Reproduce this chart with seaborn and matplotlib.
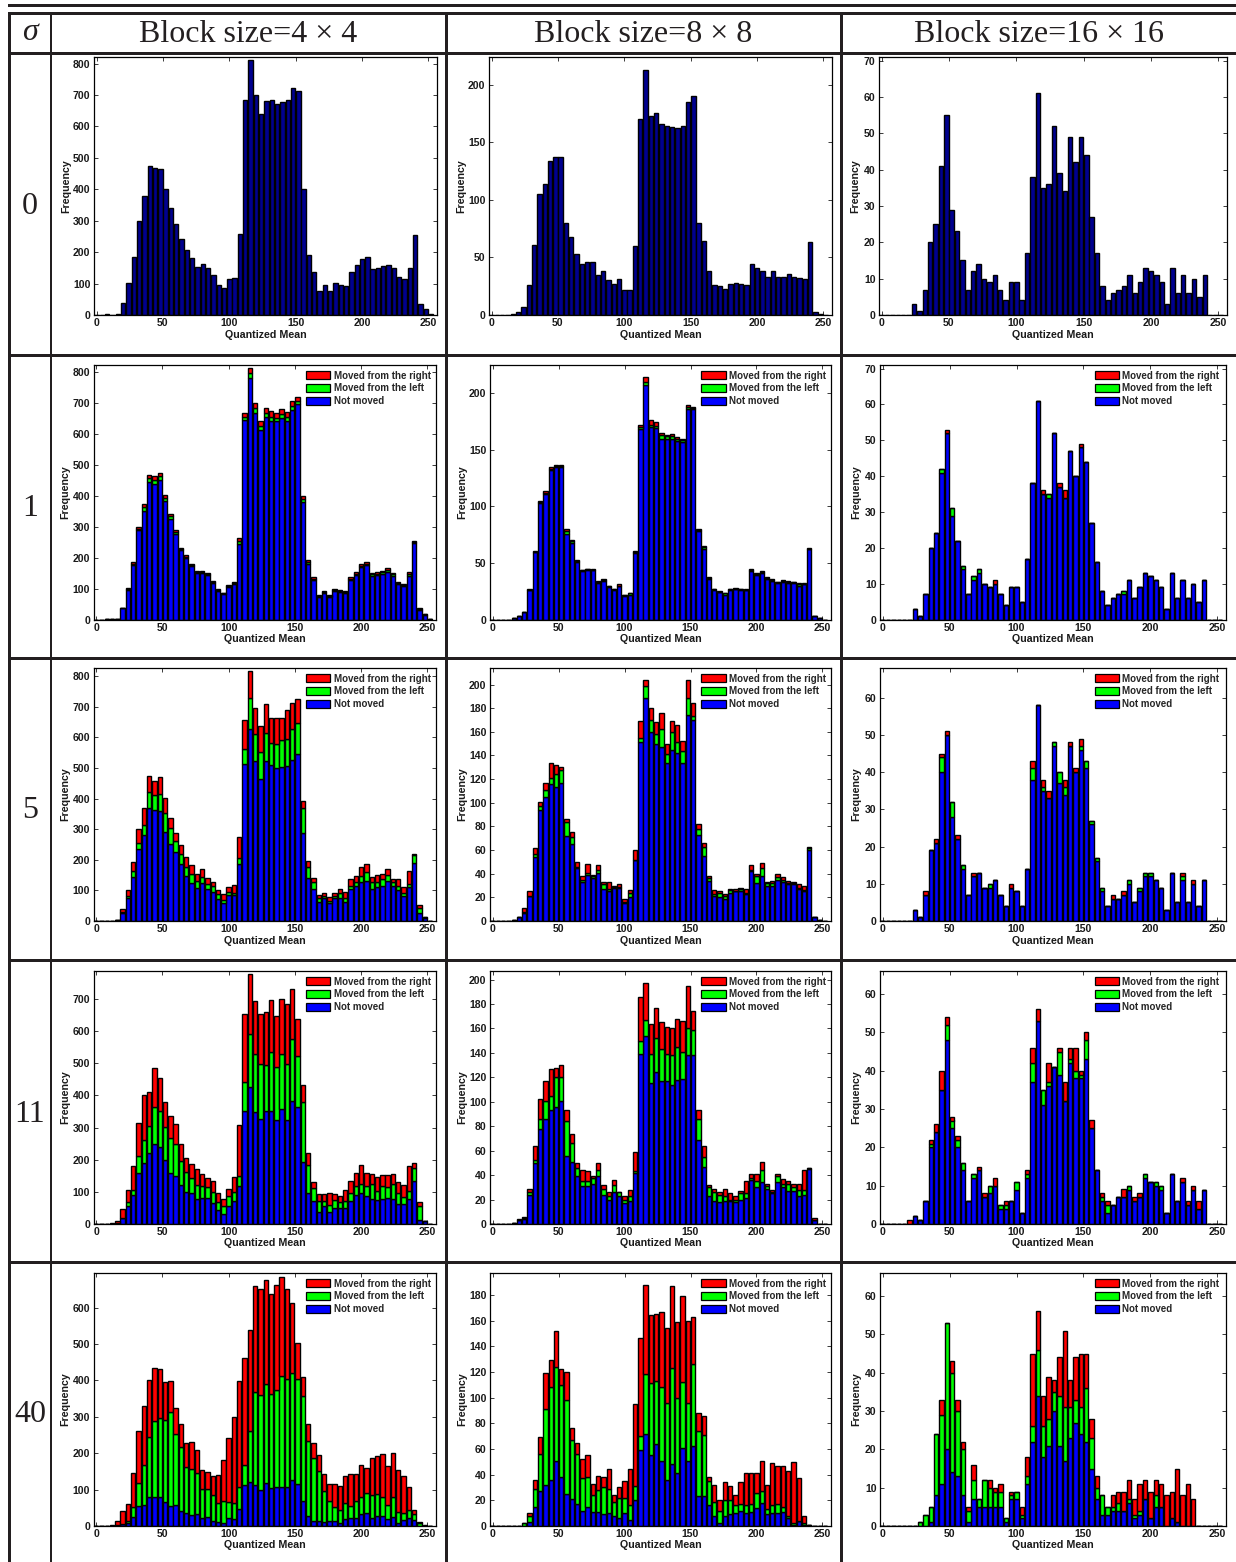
import numpy as np
import pandas as pd
import matplotlib
matplotlib.use("Agg")
import matplotlib.pyplot as plt
from matplotlib.patches import Patch, Rectangle
import seaborn as sns

W, H = 1236, 1562

sigma_labels = ["0", "1", "5", "11", "40"]
block_labels = ["Block size=4 \u00d7 4", "Block size=8 \u00d7 8", "Block size=16 \u00d7 16"]
legend_labels = ["Moved from the right", "Moved from the left", "Not moved"]
x_ticks = [0, 50, 100, 150, 200, 250]
bin_centers = list(range(0, 256, 4))

# sigma = 0 : single histograms
s0_b4 = [0,0,2,1,3,38,103,183,300,378, 474,469,466,401,342,290,243,206,181,154,
         162,150,127,95,87,115,118,258,685,811, 700,640,682,684,670,679,683,722,712,400,
         190,137,77,96,77,102,96,91,137,158, 177,183,146,149,156,159,151,122,115,150, 253,34,18,2]
s0_b8 = [0,0,0,0,1,3,7,26,61,105, 114,134,137,137,80,68,53,44,46,46,
         35,38,30,27,31,22,22,60,170,213, 173,175,166,164,163,162,164,185,190,80,
         64,38,26,25,23,27,28,27,26,44, 41,38,33,38,33,33,36,33,32,31, 63,3,1,0]
s0_b16 = [0,0,0,0,0,0,3,1,7,20, 25,41,55,29,23,15,7,12,14,10,
          9,11,7,4,9,9,4,17,38,61, 35,36,52,39,34,49,42,49,44,27,
          17,8,4,6,7,8,11,6,9,13, 12,11,9,3,13,6,11,6,10,5, 11,0,0,0]

# sigma = 1 : stack tops
s1_b4_top = [0,0,1,1,3,38,102,185,298,372, 468,462,472,402,340,288,232,208,180,158,
             158,150,125,97,86,112,120,262,668,812, 700,642,684,672,668,680,670,705,718,398,
             192,136,78,92,78,98,96,92,136,152, 178,186,150,152,156,165,150,120,115,152, 255,36,18,2]
s1_b4_left = [0,0,1,1,3,37,98,180,293,362, 456,450,462,392,333,283,228,203,176,155,
              154,147,122,95,84,109,117,252,655,795, 682,625,668,655,652,664,655,690,705,388,
              186,132,75,89,75,95,93,89,132,148, 173,180,146,148,152,160,146,117,112,147, 250,34,17,2]
s1_b4_not = [0,0,1,1,3,36,95,176,288,352, 444,438,450,382,325,277,224,198,172,151,
             150,143,119,92,82,106,114,245,645,780, 668,612,655,640,640,650,642,678,695,380,
             180,128,72,86,72,92,90,86,128,144, 168,175,142,144,148,155,142,114,109,142, 246,32,16,2]
s1_b8_top = [0,0,0,0,1,3,7,27,61,105, 114,135,137,137,80,70,53,44,45,45,
             34,36,30,27,31,22,23,61,172,214, 176,175,165,163,164,161,160,190,188,80,
             65,38,27,25,23,27,28,27,27,45, 41,43,38,36,33,35,34,33,32,32, 63,3,1,0]
s1_b8_left = [0,0,0,0,1,3,7,26,60,104, 112,133,136,136,78,69,52,44,45,44,
              33,35,30,27,30,22,23,60,170,210, 172,171,163,162,162,160,159,188,187,79,
              64,37,27,24,23,27,27,27,26,44, 40,42,37,35,33,34,33,33,31,31, 62,3,1,0]
s1_b8_not = [0,0,0,0,1,3,7,26,60,103, 111,132,135,135,76,68,51,43,44,44,
             32,34,29,26,30,21,22,59,168,207, 170,169,160,160,160,158,157,186,186,78,
             62,36,26,24,22,26,27,26,26,43, 39,41,36,34,32,33,32,32,30,31, 62,3,1,0]
s1_b16_top = [0,0,0,0,0,0,3,1,7,20, 24,42,53,31,22,15,7,12,14,10,
              9,11,7,4,9,9,5,17,38,61, 36,35,52,38,36,47,40,49,44,27,
              16,8,4,6,7,8,11,6,9,13, 12,11,9,3,13,6,11,6,10,5, 11,0,0,0]
s1_b16_left = [0,0,0,0,0,0,3,1,7,20, 24,42,52,31,22,15,7,12,14,10,
               9,10,7,4,9,9,5,17,38,61, 35,35,52,37,34,47,40,48,44,27,
               16,8,4,6,7,8,11,6,9,13, 12,11,9,3,13,6,11,6,10,5, 11,0,0,0]
s1_b16_not = [0,0,0,0,0,0,3,1,7,20, 24,41,52,29,22,14,7,11,13,10,
              9,10,7,4,9,9,5,17,38,61, 35,34,52,37,34,47,40,48,44,27,
              16,8,4,6,7,7,11,6,9,13, 12,11,9,3,13,6,11,6,10,5, 11,0,0,0]

# sigma = 5
s5_b4_top = [0,0,0,0,3,38,101,192,300,369, 473,457,470,402,338,287,247,210,182,152,
             169,142,127,101,87,110,119,276,657,817, 696,636,708,662,664,664,691,712,725,392,
             195,139,84,90,78,91,106,96,137,148, 175,185,144,151,152,169,137,136,110,165, 220,53,13,0]
s5_b4_left = [0,0,0,0,2,29,83,162,256,315, 422,412,416,352,305,263,220,178,155,132,
              143,121,115,87,70,96,93,207,561,728, 610,552,614,582,580,593,596,629,648,369,
              177,128,76,82,66,81,90,76,116,129, 148,161,128,128,136,149,128,116,93,122, 215,44,12,0]
s5_b4_not = [0,0,0,0,2,27,74,143,234,281, 369,362,358,290,252,224,186,146,124,107,
             123,104,94,73,60,85,84,186,514,628, 522,464,523,509,500,503,506,526,545,287,
             142,104,61,74,58,74,74,62,103,113, 126,130,105,110,113,130,116,100,81,110, 191,25,11,0]
s5_b8_top = [0,0,0,0,1,3,11,25,62,101, 117,134,132,130,86,75,50,38,48,39,
             47,33,33,30,31,19,26,60,169,204, 180,168,176,150,169,166,152,204,184,82,
             66,38,26,25,23,27,27,28,27,47, 40,49,33,34,40,37,34,33,31,30, 63,3,1,0]
s5_b8_left = [0,0,0,0,1,3,8,21,57,97, 111,121,124,128,84,71,46,35,41,38,
              43,31,27,29,29,16,24,52,155,199, 170,158,162,141,160,151,144,189,173,78,
              63,36,23,24,21,26,25,27,24,43, 38,45,32,32,37,35,32,32,28,26, 62,3,1,0]
s5_b8_not = [0,0,0,0,1,3,7,21,54,94, 105,116,113,117,72,65,45,33,39,36,
             41,27,25,28,28,15,20,52,151,189, 160,150,147,134,145,142,134,174,170,73,
             55,34,21,20,19,24,25,25,23,42, 32,38,30,30,35,33,31,31,27,25, 60,3,1,0]
s5_b16_top = [0,0,0,0,0,0,3,1,8,19, 22,45,51,32,23,15,7,13,13,9,
              10,11,7,4,10,8,4,14,43,58, 38,35,48,40,38,48,41,49,43,27,
              17,9,4,7,6,8,11,5,9,13, 13,11,9,3,13,5,13,5,11,4, 11,0,0,0]
s5_b16_left = [0,0,0,0,0,0,3,1,7,19, 21,44,50,32,22,15,7,12,13,9,
               10,11,7,4,9,8,4,14,41,58, 36,33,48,40,36,47,40,47,43,27,
               17,9,4,6,6,7,11,5,9,13, 13,11,9,3,13,5,12,5,10,4, 11,0,0,0]
s5_b16_not = [0,0,0,0,0,0,3,1,7,19, 21,40,50,28,22,14,7,12,13,9,
              9,11,7,4,9,8,4,14,38,58, 35,33,47,37,34,47,40,46,41,26,
              16,8,4,6,6,7,10,5,8,12, 12,11,9,3,13,5,11,5,10,4, 11,0,0,0]

# sigma = 11
s11_b4_top = [0,0,0,3,8,48,105,179,313,402, 412,484,453,378,335,311,250,204,188,170,
              157,143,133,95,79,110,147,307,652,778, 693,652,661,697,646,700,683,731,637,431,
              222,130,92,92,96,94,88,105,135,160, 183,158,157,146,152,153,155,132,120,180, 191,67,8,0]
s11_b4_left = [0,0,0,1,2,19,68,107,213,260, 304,364,353,301,266,250,197,163,144,120,
               119,114,100,69,57,87,98,148,443,592, 530,499,495,534,487,528,499,574,524,378,
               184,113,70,73,60,75,69,70,97,119, 125,118,123,103,117,116,123,97,84,104, 173,56,8,0]
s11_b4_not = [0,0,0,0,1,18,55,90,158,190, 220,248,238,198,160,148,120,101,95,77,
              80,81,65,43,30,55,71,117,353,425, 347,328,352,353,322,357,325,382,364,192,
              96,71,37,55,37,51,50,49,70,89, 95,87,77,76,77,81,79,62,61,77, 133,11,8,0]
s11_b8_top = [0,0,0,0,1,4,6,29,64,102, 117,127,128,130,93,74,50,44,43,39,
              50,32,26,36,26,23,28,59,186,197, 164,177,165,161,160,168,166,195,174,93,
              64,32,29,26,29,25,23,27,35,41, 41,51,33,28,41,37,35,33,33,44, 46,5,0,0]
s11_b8_left = [0,0,0,0,1,3,5,26,52,86, 101,105,120,120,84,66,46,35,35,38,
               44,29,23,32,26,20,23,43,150,167, 139,152,143,139,138,145,141,160,159,86,
               55,30,26,24,23,20,20,25,25,38, 35,44,31,26,39,33,33,30,28,28, 46,3,0,0]
s11_b8_not = [0,0,0,0,1,3,4,24,50,78, 86,93,96,101,56,51,39,31,31,33,
              39,24,20,26,23,17,19,42,139,154, 115,124,117,117,114,118,119,138,138,69,
              47,23,19,18,19,19,18,20,21,36, 30,34,29,25,34,30,27,27,23,24, 45,3,0,0]
s11_b16_top = [0,0,0,0,0,1,2,1,6,22, 26,40,54,28,23,16,6,13,15,8,
               10,12,5,6,6,11,3,14,46,56, 35,42,41,46,37,46,46,40,50,27,
               14,8,6,5,7,9,10,7,8,13, 11,11,10,3,13,6,12,6,10,6, 9,0,0,0]
s11_b16_left = [0,0,0,0,0,0,2,1,6,21, 24,35,52,27,22,16,6,13,14,7,
                10,10,5,5,6,11,3,13,42,53, 35,37,41,45,32,43,40,39,48,25,
                14,7,5,5,7,7,10,6,7,13, 11,11,10,3,13,6,11,5,9,4, 9,0,0,0]
s11_b16_not = [0,0,0,0,0,0,2,1,6,20, 24,35,48,25,20,14,6,12,14,7,
               8,10,4,4,6,9,3,12,37,53, 31,36,41,39,32,42,38,38,43,25,
               14,6,3,5,7,7,9,6,7,12, 11,10,9,3,13,6,11,5,9,4, 9,0,0,0]

# sigma = 40
s40_b4_top = [0,0,1,3,14,40,60,145,261,331, 402,435,430,395,399,324,281,228,230,210,
              154,148,137,140,181,243,300,397,462,539, 658,650,676,638,663,685,650,612,503,408,
              281,227,195,142,116,115,110,138,142,142, 168,159,187,192,197,164,200,154,137,107, 43,10,2,0]
s40_b4_left = [0,0,0,1,3,6,13,52,117,168, 244,288,296,292,313,254,217,162,157,145,
               103,102,84,64,69,65,62,107,168,262, 367,360,391,362,374,411,404,420,404,358,
               234,188,151,95,69,53,45,62,54,69, 81,90,86,87,80,59,79,38,36,45, 32,9,1,0]
s40_b4_not = [0,0,0,0,2,5,8,24,55,59, 81,80,81,66,55,59,41,35,29,32,
              22,24,15,10,7,22,18,46,112,121, 114,99,118,105,108,106,108,125,115,68,
              27,15,13,10,14,14,8,20,22,21, 32,35,23,27,28,18,24,7,16,21, 16,1,0,0]
s40_b8_top = [0,0,0,0,0,0,2,10,36,69, 119,129,152,122,120,76,65,52,55,33,
              39,38,44,24,30,35,44,95,146,188, 164,165,167,154,187,159,179,160,163,88,
              86,38,32,20,34,31,24,34,41,41, 41,51,32,49,47,47,43,50,37,8, 1,0,0,0]
s40_b8_left = [0,0,0,0,0,0,2,8,29,56, 91,108,124,110,98,67,56,37,38,24,
               28,30,29,19,22,22,16,31,70,118, 111,113,108,96,123,100,112,96,126,74,
               71,35,19,12,20,20,16,17,16,17, 26,27,13,16,17,15,8,2,4,2, 1,0,0,0]
s40_b8_not = [0,0,0,0,0,0,0,3,15,27, 32,36,51,38,25,21,17,12,15,11,
              11,9,10,8,6,10,5,20,59,72, 55,64,51,36,48,41,61,51,62,23,
              23,16,8,2,8,9,10,12,10,11, 14,18,9,10,10,11,6,1,4,1, 1,0,0,0]
s40_b16_top = [0,0,0,0,0,0,0,1,3,5, 24,33,53,43,33,22,5,16,7,12,
               12,10,11,2,9,9,5,18,45,56, 34,39,38,44,51,38,44,45,45,28,
               13,8,5,8,9,9,12,7,11,12, 9,12,11,8,9,15,8,11,7,0, 0,0,0,0]
s40_b16_left = [0,0,0,0,0,0,0,1,3,5, 24,29,53,40,30,20,4,12,7,12,
                10,9,9,2,8,9,3,13,26,46, 26,28,35,34,31,31,33,31,36,23,
                10,8,5,5,6,4,7,3,4,7, 2,8,5,0,2,1,0,0,0,0, 0,0,0,0]
s40_b16_not = [0,0,0,0,0,0,0,0,0,1, 8,11,20,14,13,8,1,7,5,5,
               5,5,5,1,7,7,2,11,22,34, 18,21,30,21,17,23,27,24,22,15,
               7,3,3,4,4,4,6,2,3,7, 2,5,5,0,2,1,0,0,0,0, 0,0,0,0]

stacked = {
    (1, 0): (s1_b4_top, s1_b4_left, s1_b4_not), (1, 1): (s1_b8_top, s1_b8_left, s1_b8_not), (1, 2): (s1_b16_top, s1_b16_left, s1_b16_not),
    (2, 0): (s5_b4_top, s5_b4_left, s5_b4_not), (2, 1): (s5_b8_top, s5_b8_left, s5_b8_not), (2, 2): (s5_b16_top, s5_b16_left, s5_b16_not),
    (3, 0): (s11_b4_top, s11_b4_left, s11_b4_not), (3, 1): (s11_b8_top, s11_b8_left, s11_b8_not), (3, 2): (s11_b16_top, s11_b16_left, s11_b16_not),
    (4, 0): (s40_b4_top, s40_b4_left, s40_b4_not), (4, 1): (s40_b8_top, s40_b8_left, s40_b8_not), (4, 2): (s40_b16_top, s40_b16_left, s40_b16_not),
}
singles = {(0, 0): s0_b4, (0, 1): s0_b8, (0, 2): s0_b16}

y_limits = [[821, 224, 71], [822, 225, 71], [827, 214, 68], [787, 207, 66], [695, 197, 66]]
y_steps = [[100, 50, 10], [100, 50, 10], [100, 20, 10], [100, 20, 10], [100, 20, 10]]

RED, GREEN, BLUE, NAVY = "#ff0000", "#00ff00", "#0000ff", "#00008f"

sns.set_style("white")
plt.rcParams["font.family"] = ["Liberation Sans", "DejaVu Sans"]
plt.rcParams["font.weight"] = "bold"
plt.rcParams["axes.labelweight"] = "bold"

fig = plt.figure(figsize=(W / 100, H / 100), dpi=100, facecolor="white")

row_boxes = [(57, 315), (365, 619.5), (668, 921), (971, 1224), (1273, 1526)]
col_boxes = [[(94, 437), (489, 832), (879, 1227)]] + [[(93.5, 436), (490, 831), (880, 1226)]] * 4
freq_offset = [23, 23, 19]


def add_rule(x0, y0, x1, y1):
    fig.add_artist(Rectangle((x0 / W, 1 - y1 / H), (x1 - x0) / W, (y1 - y0) / H,
                             transform=fig.transFigure, facecolor="#231f20", edgecolor="none", zorder=5))


add_rule(8, 4, W, 7)
add_rule(8, 12, W, 15)
for yy in [52, 354, 657, 959, 1261]:
    add_rule(8, yy, W, yy + 3)
for xx in [8, 50, 445, 840]:
    add_rule(xx, 12, xx + 2.5, H)

serif = ["Liberation Serif", "DejaVu Serif"]
fig.text(30 / W, 1 - 33 / H, "\u03c3", family=serif, style="italic", weight="normal",
         fontsize=23, ha="center", va="center", color="#231f20")
for label, xc in zip(block_labels, [248, 643, 1039]):
    fig.text(xc / W, 1 - 34 / H, label, family=serif, weight="normal", fontsize=23,
             ha="center", va="center", color="#231f20")
for label, yc in zip(sigma_labels, [206, 508, 811, 1114, 1415]):
    fig.text(30 / W, 1 - yc / H, label, family=serif, weight="normal", fontsize=23,
             ha="center", va="center", color="#231f20")

for r, (top, bottom) in enumerate(row_boxes):
    for c, (left, right) in enumerate(col_boxes[r]):
        ax = fig.add_axes([left / W, 1 - bottom / H, (right - left) / W, (bottom - top) / H])
        if (r, c) in singles:
            frame = pd.DataFrame({"mean": bin_centers, "count": singles[(r, c)]})
            sns.histplot(frame, x="mean", weights="count", binwidth=4, binrange=(-2, 254), shrink=0.82,
                         color=NAVY, edgecolor="black", linewidth=1.0, alpha=1, ax=ax)
        else:
            t, l, n = [np.array(v) for v in stacked[(r, c)]]
            frame = pd.DataFrame({
                "mean": bin_centers * 3,
                "count": np.concatenate([t - l, l - n, n]),
                "kind": np.repeat(legend_labels, 64),
            })
            sns.histplot(frame, x="mean", weights="count", hue="kind", hue_order=legend_labels,
                         multiple="stack", binwidth=4, binrange=(-2, 254), shrink=0.82,
                         palette=[RED, GREEN, BLUE], edgecolor="black", linewidth=1.0, alpha=1,
                         legend=False, ax=ax)
            handles = [Patch(facecolor=col, edgecolor="black", linewidth=0.9) for col in (RED, GREEN, BLUE)]
            ax.legend(handles, legend_labels, loc="upper left", bbox_to_anchor=(0.62, 0.978), frameon=False,
                      borderaxespad=0, borderpad=0, handlelength=2.5, handleheight=0.9,
                      labelspacing=0.28, handletextpad=0.35, prop={"size": 7, "weight": "bold"})
        ax.set_xlim(-2, 256.5)
        ax.set_ylim(0, y_limits[r][c])
        ax.set_xticks(x_ticks)
        ax.set_yticks(np.arange(0, y_limits[r][c], y_steps[r][c]))
        ax.tick_params(direction="in", length=3, width=0.6, top=True, right=True, bottom=True, left=True,
                       labelsize=7.6, pad=2.5, colors="#1a1a1a")
        for lab in ax.get_xticklabels() + ax.get_yticklabels():
            lab.set_fontweight("bold")
        for spine in ax.spines.values():
            spine.set_visible(True)
            spine.set_linewidth(0.9)
            spine.set_color("black")
        ax.set_xlabel("Quantized Mean", fontsize=7.7, fontweight="bold", color="#1a1a1a")
        ax.set_ylabel("Frequency", fontsize=7.7, fontweight="bold", color="#1a1a1a")
        ax.xaxis.set_label_coords(0.5, -14.5 / (bottom - top))
        ax.yaxis.set_label_coords(-freq_offset[c] / (right - left), 0.5)

fig.savefig("out.png", dpi=100, facecolor="white")
